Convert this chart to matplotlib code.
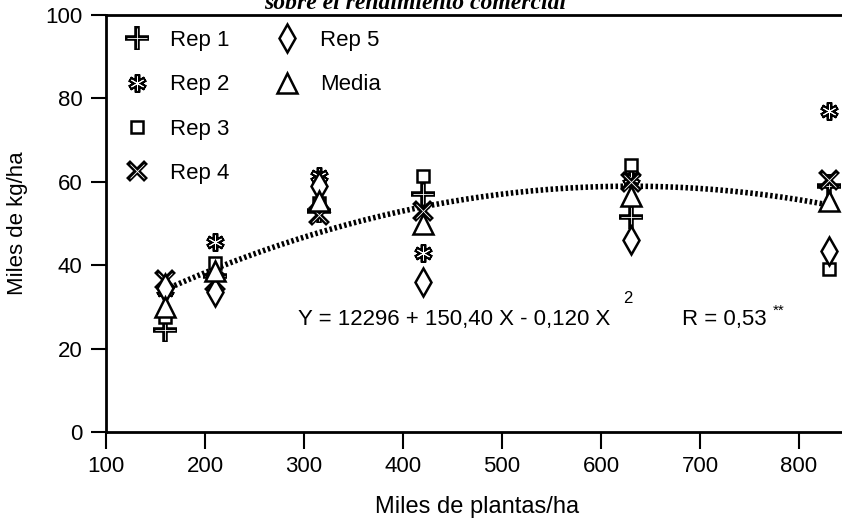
import numpy as np
import matplotlib
matplotlib.use("Agg")
import matplotlib.pyplot as plt

# data (miles de plantas/ha vs miles de kg/ha)
plantas = [160, 210, 315, 420, 630, 830]
rep1 = [24.5, 37.5, 53.0, 57.0, 51.5, 59.0]
rep2 = [34.0, 45.5, 61.5, 43.0, 61.0, 77.0]
rep3 = [27.5, 40.5, 55.0, 61.5, 64.0, 39.0]
rep4 = [36.5, 36.0, 52.0, 53.0, 60.0, 60.5]
rep5 = [34.5, 33.5, 59.0, 36.0, 46.0, 43.5]
media = [30.0, 38.5, 55.5, 50.0, 56.5, 55.5]

plt.rcParams['font.family'] = ['Liberation Sans', 'DejaVu Sans']

fig = plt.figure(figsize=(8.42, 5.19), dpi=100)
ax = fig.add_axes([106 / 842, 87 / 519, 750 * 0.99 / 842, 417 / 519])

# quadratic fit through all replicates
xs_all = np.array(plantas * 5, dtype=float)
ys_all = np.array(rep1 + rep2 + rep3 + rep4 + rep5)
coef = np.polyfit(xs_all, ys_all, 2)
xc = np.linspace(min(plantas), max(plantas), 200)
ax.plot(xc, np.polyval(coef, xc), color='black', lw=4,
        linestyle=(0, (0.45, 0.45)), zorder=2)

kw = dict(linestyle='none', zorder=3)
# outlined symbols: black thick stroke with a thin white core
h1a, = ax.plot(plantas, rep1, marker='+', ms=17, mew=4, color='black', **kw)
h1b, = ax.plot(plantas, rep1, marker='+', ms=14, mew=0.6, color='white', **kw)
h2a, = ax.plot(plantas, rep2, marker=(6, 2, 0), ms=13, mew=4, color='black', **kw)
h2b, = ax.plot(plantas, rep2, marker=(6, 2, 0), ms=10, mew=0.7, color='white', **kw)
h3, = ax.plot(plantas, rep3, marker='s', ms=8, mew=1.8, color='black', mfc='white', **kw)
h4a, = ax.plot(plantas, rep4, marker='x', ms=13, mew=4, color='black', **kw)
h4b, = ax.plot(plantas, rep4, marker='x', ms=10, mew=0.6, color='white', **kw)
h5, = ax.plot(plantas, rep5, marker='d', ms=14, mew=1.8, color='black', mfc='white', **kw)
h6, = ax.plot(plantas, media, marker='^', ms=14, mew=1.8, color='black', mfc='white', **kw)

ax.set_xlim(100, 850)
ax.set_ylim(0, 100)
ax.set_xticks(range(100, 801, 100))
ax.set_yticks(range(0, 101, 20))
ax.tick_params(direction='out', width=1.5, labelsize=16)
ax.tick_params(axis='x', length=12, pad=5)
ax.tick_params(axis='y', length=11, pad=6)
for s in ['left', 'bottom', 'top']:
    ax.spines[s].set_linewidth(2)
ax.spines['right'].set_visible(False)

ax.set_xlabel('Miles de plantas/ha', fontsize=17, labelpad=14)
ax.set_ylabel('Miles de kg/ha', fontsize=16, labelpad=12)

legkw = dict(loc='upper left', frameon=False, fontsize=16, labelspacing=1.05,
             handlelength=1.2, handletextpad=0.9, borderaxespad=0)
leg1 = ax.legend([(h1a, h1b), (h2a, h2b), h3, (h4a, h4b)],
                 ['Rep 1', 'Rep 2', 'Rep 3', 'Rep 4'],
                 bbox_to_anchor=(0.012, 0.985), **legkw)
ax.add_artist(leg1)
ax.legend([h5, h6], ['Rep 5', 'Media'], bbox_to_anchor=(0.214, 0.985), **legkw)

ax.text(294, 27, 'Y = 12296 + 150,40 X - 0,120 X', fontsize=16,
        va='center', ha='left')
ax.text(622, 32, '2', fontsize=12, va='center', ha='left')
ax.text(682, 27, 'R = 0,53', fontsize=16, va='center', ha='left')
ax.text(774, 29, '**', fontsize=11, va='center', ha='left')

# clipped title from the page above
fig.text(415 / 842, 1 - 9 / 519, 'sobre el rendimiento comercial',
         family='Liberation Serif', style='italic', weight='bold',
         fontsize=17, ha='center', va='baseline')

fig.savefig('out.png', dpi=100)
